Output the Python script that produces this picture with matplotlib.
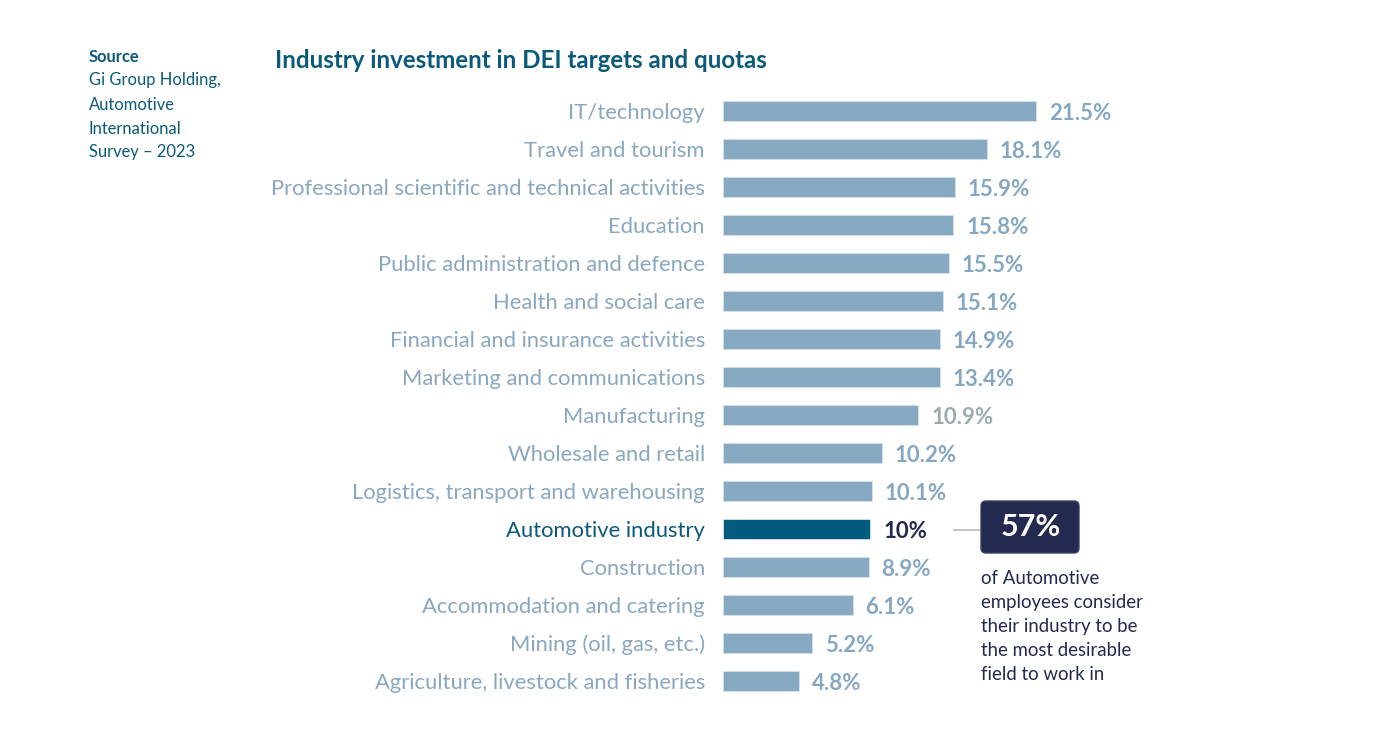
import matplotlib
matplotlib.use("Agg")
import matplotlib.pyplot as plt
from matplotlib.patches import FancyBboxPatch

plt.rcParams['font.family'] = ['Lato', 'DejaVu Sans']

# ---- data ----
categories = [
    "IT/technology", "Travel and tourism",
    "Professional scientific and technical activities", "Education",
    "Public administration and defence", "Health and social care",
    "Financial and insurance activities", "Marketing and communications",
    "Manufacturing", "Wholesale and retail",
    "Logistics, transport and warehousing", "Automotive industry",
    "Construction", "Accommodation and catering",
    "Mining (oil, gas, etc.)", "Agriculture, livestock and fisheries",
]
# value labels printed next to the bars
label_values = [21.5, 18.1, 15.9, 15.8, 15.5, 15.1, 14.9, 13.4,
                10.9, 10.2, 10.1, 10.0, 8.9, 6.1, 5.2, 4.8]
label_texts = ["21.5%", "18.1%", "15.9%", "15.8%", "15.5%", "15.1%", "14.9%",
               "13.4%", "10.9%", "10.2%", "10.1%", "10%", "8.9%", "6.1%",
               "5.2%", "4.8%"]
# bar lengths as drawn in the source picture
bar_values = [21.5, 18.1, 15.9, 15.8, 15.5, 15.1, 14.9, 14.9,
              13.4, 10.9, 10.2, 10.1, 10.0, 8.9, 6.1, 5.2]
highlight = "Automotive industry"
title = "Industry investment in DEI targets and quotas"
source_head = "Source"
source_lines = ["Gi Group Holding,", "Automotive", "International", "Survey \u2013 2023"]
callout_value = "57%"
callout_lines = ["of Automotive", "employees consider", "their industry to be",
                 "the most desirable", "field to work in"]

# ---- style ----
W, H = 1375, 750
BAR_LIGHT = "#87a9c2"
BAR_DARK = "#005b7f"
CAT_COLOR = "#8aa7c0"
VAL_COLOR = "#86a7c1"
VAL_ODD = "#9aadaa"
NAVY = "#23294f"
TEAL = "#0b5a7a"

fig = plt.figure(figsize=(W / 100, H / 100), dpi=100)
fig.patch.set_facecolor("white")

# bar axes: x in data units, placed so bars start at x=723 px
x0 = 723
px_per_unit = 14.56
ax = fig.add_axes([x0 / W, 0, 1 - x0 / W, 1])
ax.set_xlim(0, (W - x0) / px_per_unit)
y_first, y_step = 111, 38
ax.set_ylim((H - y_first) / y_step, -y_first / y_step)
ax.axis("off")

n = len(categories)
ypos = list(range(n))
colors = [BAR_DARK if c == highlight else BAR_LIGHT for c in categories]
ax.barh(ypos, bar_values, height=20 / y_step, color=colors,
        edgecolor="#d6e2ea", linewidth=0.6)

cat_off = 18 / px_per_unit
val_off = 13 / px_per_unit
for i, (c, bv, lt) in enumerate(zip(categories, bar_values, label_texts)):
    is_h = c == highlight
    ax.text(-cat_off, i, c, ha="right", va="center_baseline", fontsize=15.8,
            color=TEAL if is_h else CAT_COLOR, clip_on=False)
    vc = NAVY if is_h else (VAL_ODD if lt == "10.9%" else VAL_COLOR)
    ax.text(bv + val_off, i, lt, ha="left", va="center_baseline", fontsize=16,
            fontweight="bold", color=vc, clip_on=False)

# overlay axes in pixel coordinates for annotations
ov = fig.add_axes([0, 0, 1, 1], zorder=3)
ov.set_xlim(0, W)
ov.set_ylim(H, 0)
ov.axis("off")
ov.patch.set_alpha(0)

ov.text(275, 58, title, ha="left", va="center_baseline", fontsize=17.4,
        fontweight="bold", color=TEAL)

ov.text(89, 55, source_head, ha="left", va="center_baseline", fontsize=11.9,
        fontweight="bold", color=TEAL)
for k, line in enumerate(source_lines):
    ov.text(89, 79 + 24 * k, line, ha="left", va="center_baseline",
            fontsize=11.9, color=TEAL)

# callout
ov.plot([954, 981], [530, 530], color="#b3b8c4", lw=1.2, zorder=2)
box = FancyBboxPatch((981, 501), 98, 52, boxstyle="round,pad=0,rounding_size=5",
                     facecolor=NAVY, edgecolor="#3a4066", lw=1, zorder=3)
ov.add_patch(box)
ov.text(1031, 525, callout_value, ha="center", va="center_baseline",
        fontsize=22, fontweight="bold", color="white", zorder=4)
for k, line in enumerate(callout_lines):
    ov.text(981, 577 + 24 * k, line, ha="left", va="center_baseline",
            fontsize=13.4, color=NAVY)

fig.savefig("out.png", dpi=100, facecolor="white")
